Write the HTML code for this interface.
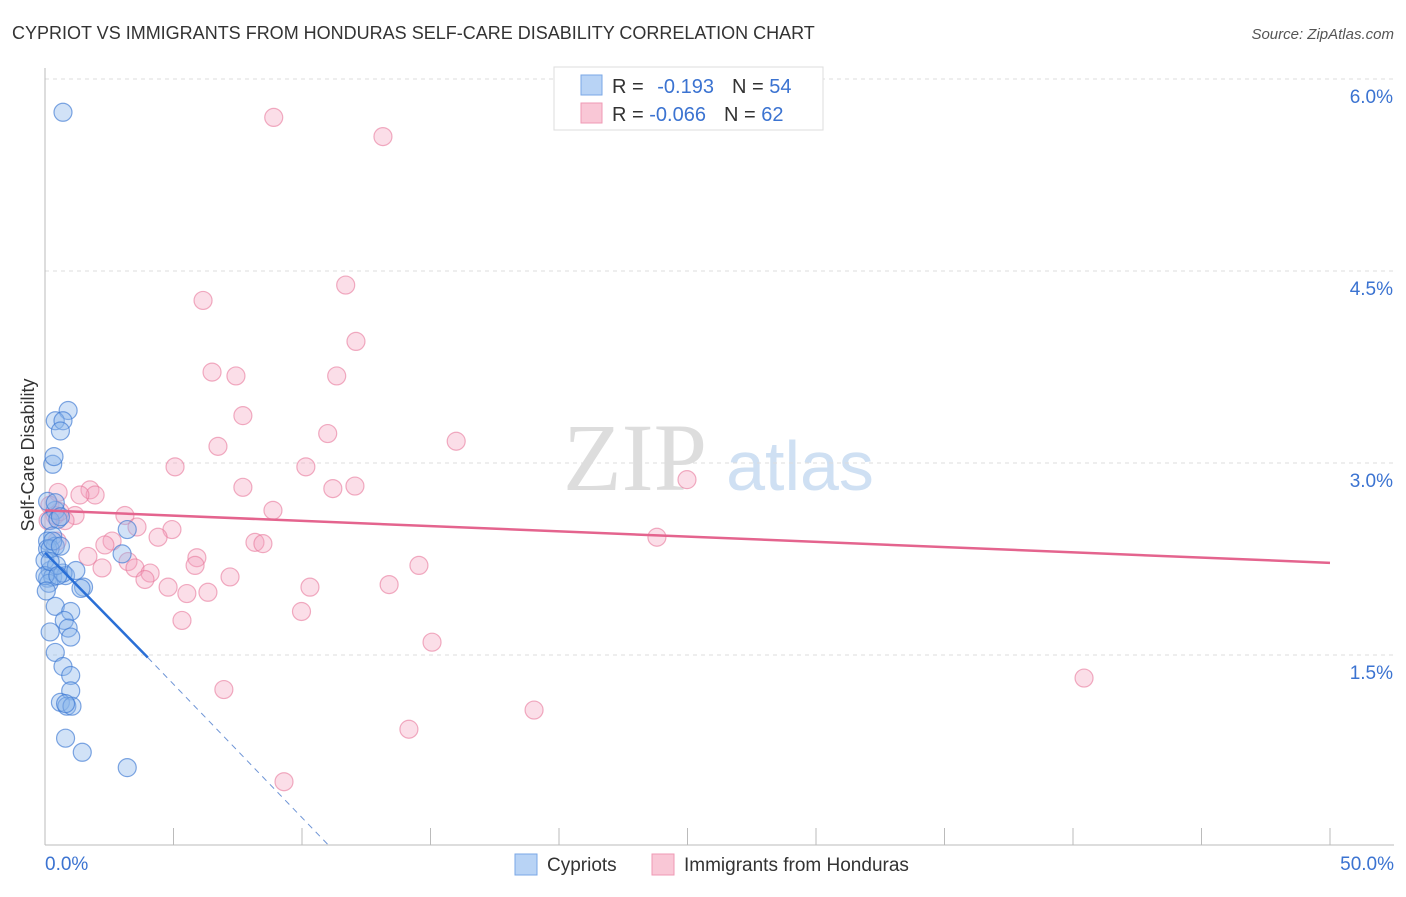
<!DOCTYPE html>
<html><head><meta charset="utf-8"><style>
body{margin:0;background:#fff;font-family:"Liberation Sans",sans-serif}
</style></head><body>
<svg width="1406" height="892" xmlns="http://www.w3.org/2000/svg" id="chart">
<text x="12" y="39" font-size="18" fill="#333">CYPRIOT VS IMMIGRANTS FROM HONDURAS SELF-CARE DISABILITY CORRELATION CHART</text>
<text x="1394" y="39" font-size="15" fill="#555" font-style="italic" text-anchor="end">Source: ZipAtlas.com</text>
<text x="635" y="490" font-size="96" fill="#ddd" font-family="Liberation Serif" text-anchor="middle">ZIP</text>
<text x="800" y="490" font-size="70" fill="#cfe0f3" text-anchor="middle">atlas</text>
<text transform="translate(34,455) rotate(-90)" font-size="18" fill="#333" text-anchor="middle">Self-Care Disability</text>
<g id="grid"></g><g id="axes"></g><g id="pts"></g><g id="trends"></g>
<g>
<rect x="554" y="67" width="269" height="63" fill="#fff" stroke="#ddd"/>
<rect x="581" y="75" width="21" height="20" fill="#b8d3f5" stroke="#7aa7e6"/>
<rect x="581" y="103" width="21" height="20" fill="#f9c7d6" stroke="#ef9ab4"/>
<text x="612" y="93" font-size="20" fill="#333">R = <tspan fill="#3b73d1" dx="8">-0.193</tspan><tspan fill="#333" dx="18">N = </tspan><tspan fill="#3b73d1">54</tspan></text>
<text x="612" y="121" font-size="20" fill="#333">R = <tspan fill="#3b73d1">-0.066</tspan><tspan fill="#333" dx="18">N = </tspan><tspan fill="#3b73d1">62</tspan></text>
</g>
<g>
<rect x="515" y="854" width="22" height="21" fill="#b8d3f5" stroke="#7aa7e6"/>
<text x="547" y="871" font-size="19" fill="#333">Cypriots</text>
<rect x="652" y="854" width="22" height="21" fill="#f9c7d6" stroke="#ef9ab4"/>
<text x="684" y="871" font-size="19" fill="#333">Immigrants from Honduras</text>
</g>
</svg>
<script>
const yTicks=[1.5,3.0,4.5,6.0];
const xTickLabels=["0.0%","50.0%"];
const blueX=[0.7,0.9,0.4,0.7,0.6,0.3,0.35,0.4,0.2,0.5,0.3,0.1,0.4,0.1,3.0,3.2,0.2,0.1,0.3,0.8,0.7,1.2,0.15,1.5,0.4,1.0,0.75,0.9,1.0,0.2,0.4,0.7,1.0,1.0,0.6,0.85,1.05,0.8,0.8,1.45,3.2,0.0,0.2,0.45,0.1,0.4,0.6,0.0,0.05,1.4,0.3,0.6,0.2,0.5];
const blueY=[5.74,3.41,3.33,3.33,3.25,2.99,3.05,2.63,2.55,2.56,2.43,2.39,2.35,2.33,2.29,2.48,2.16,2.1,2.11,2.12,2.14,2.16,2.06,2.03,1.88,1.84,1.77,1.71,1.64,1.68,1.52,1.41,1.34,1.22,1.13,1.1,1.1,1.12,0.85,0.74,0.62,2.24,2.33,2.2,2.7,2.69,2.58,2.12,2.0,2.02,2.39,2.35,2.23,2.12];
const pinkX=[8.9,13.15,11.7,6.15,12.1,6.5,7.43,11.35,7.7,6.73,11.0,16.0,5.06,10.15,7.7,11.2,12.06,24.98,0.51,1.75,1.95,1.36,0.19,0.39,1.17,0.78,8.87,3.11,3.58,4.94,4.4,2.61,2.33,23.81,8.17,8.48,5.91,1.67,3.23,2.22,3.5,4.09,3.89,5.84,7.2,4.79,5.52,6.34,10.31,13.39,14.55,9.98,5.33,15.06,6.96,40.43,19.03,14.16,9.3,0.47,0.12,0.58];
const pinkY=[5.7,5.55,4.39,4.27,3.95,3.71,3.68,3.68,3.37,3.13,3.23,3.17,2.97,2.97,2.81,2.8,2.82,2.87,2.77,2.79,2.75,2.75,2.67,2.59,2.59,2.55,2.63,2.59,2.5,2.48,2.42,2.39,2.36,2.42,2.38,2.37,2.26,2.27,2.23,2.18,2.18,2.14,2.09,2.2,2.11,2.03,1.98,1.99,2.03,2.05,2.2,1.84,1.77,1.6,1.23,1.32,1.07,0.92,0.51,2.39,2.55,2.62];
const blueTrend=[0,2.3,4.0,1.48];  // x0,y0,x1,y1 (solid)
const blueDash=[4.0,1.48,11.1,0];
const pinkTrend=[0,2.63,50,2.22];
const X=v=>45+v/50*1285, Y=v=>847-v*128;
const NS='http://www.w3.org/2000/svg';
function mk(t,a,p){const e=document.createElementNS(NS,t);for(const k in a)e.setAttribute(k,a[k]);document.getElementById(p).appendChild(e);return e;}
yTicks.forEach(t=>{
 const l=mk('line',{x1:45,x2:1394,y1:Y(t),y2:Y(t),stroke:'#ddd','stroke-dasharray':'4,4'},'grid');
 
 
 const tx=mk('text',{x:1393,y:Y(t)+24,'font-size':19,fill:'#3b73d1','text-anchor':'end'},'grid');
 tx.textContent=t.toFixed(1)+'%';
 
 
});
let a=mk('line',{x1:45,x2:45,y1:68,y2:845,stroke:'#bbb'},'axes');


a=mk('line',{x1:45,x2:1394,y1:845,y2:845,stroke:'#bbb'},'axes');


for(let i=1;i<=10;i++){const t=mk('line',{x1:X(i*5),x2:X(i*5),y1:828,y2:845,stroke:'#bbb'},'axes');
 
 }
xTickLabels.forEach((s,i)=>{const t=mk('text',{x:i?1394:45,y:870,'font-size':19,fill:'#3b73d1','text-anchor':i?'end':'start'},'axes');t.textContent=s;
 
 });
pinkX.forEach((v,i)=>{const c=mk('circle',{cx:X(v),cy:Y(pinkY[i]),r:9,fill:'rgba(244,160,188,0.35)',stroke:'rgba(232,120,155,0.6)','stroke-width':1.2},'pts');
 
 });
blueX.forEach((v,i)=>{const c=mk('circle',{cx:X(v),cy:Y(blueY[i]),r:9,fill:'rgba(140,182,236,0.4)',stroke:'rgba(60,120,210,0.65)','stroke-width':1.2},'pts');
 
 });
let t=mk('line',{x1:X(blueTrend[0]),y1:Y(blueTrend[1]),x2:X(blueTrend[2]),y2:Y(blueTrend[3]),stroke:'#2a6fd6','stroke-width':2.5},'trends');


t=mk('line',{x1:X(blueDash[0]),y1:Y(blueDash[1]),x2:X(blueDash[2]),y2:Y(blueDash[3]),stroke:'#6f95d6','stroke-width':1,'stroke-dasharray':'6,5'},'trends');


t=mk('line',{x1:X(pinkTrend[0]),y1:Y(pinkTrend[1]),x2:X(pinkTrend[2]),y2:Y(pinkTrend[3]),stroke:'#e4648e','stroke-width':2.5},'trends');


</script>
</body></html>
